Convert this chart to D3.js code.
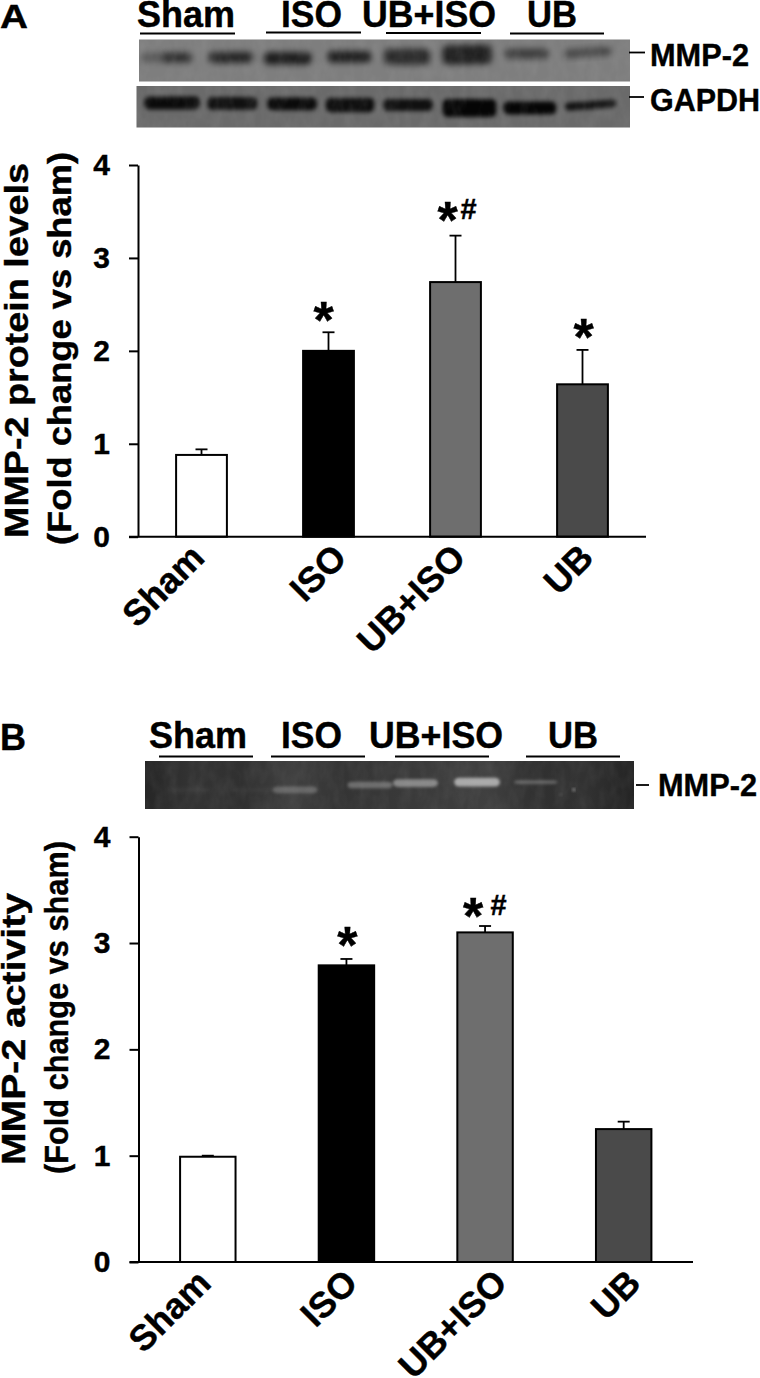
<!DOCTYPE html>
<html>
<head>
<meta charset="utf-8">
<title>MMP-2 protein levels and activity</title>
<script src="https://d3js.org/d3.v7.min.js"></script>
<style>
    html, body { margin: 0; padding: 0; background: #fff; }
    svg { display: block; }
    text { font-family: "Liberation Sans", Arial, sans-serif; font-weight: bold; fill: #000; stroke: #000; stroke-width: 0.4px; }
    .axis path, .axis line { stroke: #000; stroke-width: 2; }
</style>
</head>
<body>
<div id="container"></div>
<script>
"use strict";

const WIDTH = 760;
const HEIGHT = 1378;

// chart values
const CATEGORIES = ["Sham", "ISO", "UB+ISO", "UB"];
const Y_TICKS = [0, 1, 2, 3, 4];
const BAR_COLORS = ["#ffffff", "#000000", "#6e6e6e", "#4a4a4a"];

const PROTEIN_MEANS = [0.88, 2.0, 2.74, 1.64];
const PROTEIN_ERRORS = [0.06, 0.2, 0.5, 0.37];
const PROTEIN_SIG = ["", "*", "*#", "*"];

const ACTIVITY_MEANS = [0.99, 2.79, 3.1, 1.25];
const ACTIVITY_ERRORS = [0.01, 0.06, 0.06, 0.07];
const ACTIVITY_SIG = ["", "*", "*#", ""];

// blot bands: position and width in % of gel width, migration and thickness in % of gel height
const MMP2_POS = [3.3, 7.9, 18.7, 30.3, 42.8, 54.6, 66.8, 79, 91.4];
const MMP2_WIDTH = [5.7, 5.7, 9.0, 9.8, 9.0, 9.4, 10, 9.2, 9.8];
const MMP2_MIGRATION = [43, 43, 43, 45, 41, 41, 36, 34, 31];
const MMP2_THICK = [24, 24, 27, 29, 27, 38, 46, 24, 20];
const MMP2_DENSITY = [0.3, 0.65, 0.7, 0.78, 0.78, 0.66, 0.76, 0.52, 0.45];
const MMP2_TILT = [0, 0, 0, 0, 0, 0, -1, 0, -4];

const GAPDH_POS = [7.2, 19.4, 31.5, 43.3, 55, 67.5, 79.7, 92];
const GAPDH_WIDTH = [11.3, 10.1, 10.1, 9.9, 10.1, 10.9, 10.7, 10.5];
const GAPDH_MIGRATION = [41, 42, 43, 46, 46, 53, 53, 46];
const GAPDH_THICK = [31, 31, 31, 34, 29, 43, 31, 20];
const GAPDH_DENSITY = [0.9, 0.85, 0.9, 0.88, 0.85, 0.95, 0.95, 0.82];
const GAPDH_TILT = [0, 0, 0, 0, 0, 0, 0, -4];

const ZYMO_POS = [9, 22, 30.7, 46, 55.3, 67.9, 79.9, 87.7, 85];
const ZYMO_WIDTH = [9, 9, 9.2, 9.2, 9.2, 9.4, 8.8, 0.6, 0.5];
const ZYMO_MIGRATION = [60, 60, 60, 50, 46, 44, 44, 60, 70];
const ZYMO_THICK = [10, 10, 14, 14, 16, 18, 8, 5, 4];
const ZYMO_DENSITY = [0.03, 0.03, 0.22, 0.28, 0.4, 0.56, 0.25, 0.6, 0.25];

const ZYMO_SHADES = ["#262626", "#343434", "#303030", "#404040", "#343434", "#383838", "#3c3c3c", "#404040", "#303030", "#323232", "#242424"];

// nudge of the slanted labels from the bar centre, per panel
const PROTEIN_LABEL_DX = [5, 20, 12, 13];
const ACTIVITY_LABEL_DX = [5, 13, 24, 19];

const SVG = d3.select("div#container").append("svg")
    .attr("width", WIDTH)
    .attr("height", HEIGHT)
    .attr("viewBox", `0 0 ${WIDTH} ${HEIGHT}`);

const DEFS = SVG.append("defs");

addBlur("softBlur", 3);
addBlur("bandBlur", 2.2);
addBlur("zymoBlur", 1.4);
addGrain("grain");

function addBlur(id, amount) {
    DEFS.append("filter")
        .attr("id", id)
        .attr("x", "-20%").attr("y", "-60%")
        .attr("width", "140%").attr("height", "220%")
        .append("feGaussianBlur")
        .attr("stdDeviation", amount);
}

// mottled film texture laid over the gels, kept inside the gel rectangle
function addGrain(id) {
    const f = DEFS.append("filter")
        .attr("id", id)
        .attr("x", 0).attr("y", 0)
        .attr("width", "100%").attr("height", "100%");
    f.append("feTurbulence")
        .attr("type", "fractalNoise")
        .attr("baseFrequency", "0.09 0.05")
        .attr("numOctaves", 3)
        .attr("seed", 4);
    f.append("feColorMatrix")
        .attr("values", "0 0 0 0 0.5  0 0 0 0 0.5  0 0 0 0 0.5  1.2 0 0 0 -0.4");
}

const zymoGrad = DEFS.append("linearGradient").attr("id", "zymoBg");
ZYMO_SHADES.forEach((c, i) => {
    zymoGrad.append("stop")
        .attr("offset", i / (ZYMO_SHADES.length - 1))
        .attr("stop-color", c);
});

drawPanel({
    letter: "A", letterY: 28, letterSize: 33, letterLen: 28,
    means: PROTEIN_MEANS, errors: PROTEIN_ERRORS, sig: PROTEIN_SIG,
    xRange: [138, 646], yRange: [536.7, 165],
    titles: [
        { text: "MMP-2 protein levels", x: 28, y0: 538, len: 375 },
        { text: "(Fold change vs sham)", x: 71, y0: 545, len: 393 }
    ],
    labelY: 23, labelDx: PROTEIN_LABEL_DX,
    sigOffsets: [null, [-5, -22], [-8, -26], [1, -23]],
    hashDx: 21
});

drawPanel({
    letter: "B", letterY: 750, letterSize: 37, letterLen: 26,
    means: ACTIVITY_MEANS, errors: ACTIVITY_ERRORS, sig: ACTIVITY_SIG,
    xRange: [138.5, 693], yRange: [1262, 836.7],
    titles: [
        { text: "MMP-2 activity", x: 25, y0: 1165, len: 272 },
        { text: "(Fold change vs sham)", x: 68, y0: 1174, len: 333 }
    ],
    labelY: 23, labelDx: ACTIVITY_LABEL_DX,
    sigOffsets: [null, [1, -24], [-12, -20], null],
    hashDx: 25.5
});

// group headers over the gels
drawHeaders([
    { text: "Sham", x: 137, y: 27, len: 98, line: [140, 235], lineY: 33.5 },
    { text: "ISO", x: 281, y: 27, len: 61, line: [266, 361], lineY: 32.5 },
    { text: "UB+ISO", x: 362, y: 27, len: 134, line: [386, 481], lineY: 33 },
    { text: "UB", x: 527, y: 27, len: 50, line: [510, 604], lineY: 33.5 }
]);
drawHeaders([
    { text: "Sham", x: 149, y: 748, len: 98, line: [159, 253], lineY: 756.5 },
    { text: "ISO", x: 281, y: 748, len: 61, line: [271, 365], lineY: 756.5 },
    { text: "UB+ISO", x: 369, y: 748, len: 134, line: [395, 489], lineY: 756.5 },
    { text: "UB", x: 548, y: 748, len: 50, line: [526, 620], lineY: 756.5 }
]);

drawGel({
    x0: 139, x1: 630, y0: 39.5, y1: 81.5, fill: "#7e7e7e", grain: 0.16,
    pos: MMP2_POS, width: MMP2_WIDTH, migration: MMP2_MIGRATION, thick: MMP2_THICK,
    density: MMP2_DENSITY, tilt: MMP2_TILT, band: "#000", filter: "softBlur",
    label: "MMP-2", labelX: 650, labelY: 66, labelLen: 99, tick: [629, 645, 52.5]
});
drawGel({
    x0: 136.5, x1: 630, y0: 86, y1: 127.5, fill: "#6a6a6a", grain: 0.16,
    pos: GAPDH_POS, width: GAPDH_WIDTH, migration: GAPDH_MIGRATION, thick: GAPDH_THICK,
    density: GAPDH_DENSITY, tilt: GAPDH_TILT, band: "#000", filter: "bandBlur",
    label: "GAPDH", labelX: 650, labelY: 111, labelLen: 110, tick: [629, 644, 97]
});
drawGel({
    x0: 145, x1: 634, y0: 761, y1: 809, fill: "url(#zymoBg)", grain: 0.12,
    pos: ZYMO_POS, width: ZYMO_WIDTH, migration: ZYMO_MIGRATION, thick: ZYMO_THICK,
    density: ZYMO_DENSITY, tilt: null, band: "#fff", filter: "zymoBlur",
    label: "MMP-2", labelX: 658, labelY: 796, labelLen: 99, tick: [636, 649, 785]
});

function drawPanel(cfg) {
    const { xScale, yScale } = defineScales(cfg);

    SVG.append("text")
        .attr("x", 0)
        .attr("y", cfg.letterY)
        .attr("textLength", cfg.letterLen)
        .attr("lengthAdjust", "spacingAndGlyphs")
        .style("font-size", cfg.letterSize + "px")
        .text(cfg.letter);

    drawBars(cfg, xScale, yScale);
    drawAxes(cfg, xScale, yScale);
    drawSig(cfg, xScale, yScale);

    cfg.titles.forEach(function (t) {
        SVG.append("text")
            .attr("transform", `translate(${t.x},${t.y0}) rotate(-90)`)
            .attr("textLength", t.len)
            .attr("lengthAdjust", "spacingAndGlyphs")
            .style("font-size", "33px")
            .text(t.text);
    });
}

function defineScales(cfg) {
    const xScale = d3.scaleBand()
        .domain(CATEGORIES)
        .range(cfg.xRange)
        .paddingInner(0.6)
        .paddingOuter(0.3);

    const yScale = d3.scaleLinear()
        .domain([0, 4])
        .range(cfg.yRange);
    return { xScale, yScale };
}

function drawBars(cfg, xScale, yScale) {
    const rows = CATEGORIES.map((c, i) => ({
        cat: c,
        mean: cfg.means[i],
        err: cfg.errors[i],
        color: BAR_COLORS[i]
    }));
    const capHalf = 6;

    const errs = SVG.append("g").selectAll("g").data(rows).join("g")
        .attr("stroke", "#000")
        .attr("stroke-width", 1.8);
    errs.append("line")
        .attr("x1", d => xScale(d.cat) + xScale.bandwidth() / 2)
        .attr("x2", d => xScale(d.cat) + xScale.bandwidth() / 2)
        .attr("y1", d => yScale(d.mean))
        .attr("y2", d => yScale(d.mean + d.err));
    errs.append("line")
        .attr("x1", d => xScale(d.cat) + xScale.bandwidth() / 2 - capHalf)
        .attr("x2", d => xScale(d.cat) + xScale.bandwidth() / 2 + capHalf)
        .attr("y1", d => yScale(d.mean + d.err))
        .attr("y2", d => yScale(d.mean + d.err));

    SVG.append("g").selectAll("rect").data(rows).join("rect")
        .attr("x", d => xScale(d.cat))
        .attr("y", d => yScale(d.mean))
        .attr("width", xScale.bandwidth())
        .attr("height", d => yScale(0) - yScale(d.mean))
        .attr("fill", d => d.color)
        .attr("stroke", "#000")
        .attr("stroke-width", 2);
}

function drawAxes(cfg, xScale, yScale) {
    const yaxis = d3.axisLeft(yScale)
        .tickValues(Y_TICKS)
        .tickFormat(d3.format("d"))
        .tickSize(9)
        .tickSizeOuter(0);

    const yG = SVG.append("g")
        .attr("class", "axis")
        .attr("transform", `translate(${cfg.xRange[0]},0)`)
        .call(yaxis);
    yG.selectAll("text")
        .attr("x", -28)
        .style("font-size", "30px")
        .style("font-family", "\"Liberation Sans\", Arial, sans-serif");

    const xaxis = d3.axisBottom(xScale).tickSize(0).tickSizeOuter(0);
    const xG = SVG.append("g")
        .attr("class", "axis")
        .attr("transform", `translate(0,${cfg.yRange[0]})`)
        .call(xaxis);
    xG.select("path")
        .attr("d", `M${cfg.xRange[0] - 9},0H${cfg.xRange[1]}`);
    xG.selectAll("text")
        .attr("x", 0)
        .attr("y", 0)
        .attr("dy", 0)
        .attr("text-anchor", "end")
        .attr("transform", (d, i) => `translate(${cfg.labelDx[i]},${cfg.labelY}) rotate(-45)`)
        .style("font-size", "36px")
        .style("font-family", "\"Liberation Sans\", Arial, sans-serif");
}

function drawSig(cfg, xScale, yScale) {
    CATEGORIES.forEach(function (c, i) {
        if (!cfg.sig[i]) {
            return;
        }
        const cx = xScale(c) + xScale.bandwidth() / 2 + cfg.sigOffsets[i][0];
        const cy = yScale(cfg.means[i] + cfg.errors[i]) + cfg.sigOffsets[i][1];

        // the asterisk glyph sits high in its em box, so the baseline is pushed down
        SVG.append("text")
            .attr("x", cx)
            .attr("y", cy + 28)
            .attr("text-anchor", "middle")
            .style("font-size", "52px")
            .text("*");

        if (cfg.sig[i].includes("#")) {
            SVG.append("text")
                .attr("x", cx + cfg.hashDx)
                .attr("y", cy + 9)
                .attr("text-anchor", "middle")
                .style("font-size", "29px")
                .text("#");
        }
    });
}

function drawHeaders(items) {
    items.forEach(function (d) {
        SVG.append("text")
            .attr("x", d.x)
            .attr("y", d.y)
            .attr("textLength", d.len)
            .attr("lengthAdjust", "spacingAndGlyphs")
            .style("font-size", "36px")
            .text(d.text);
        SVG.append("line")
            .attr("x1", d.line[0])
            .attr("x2", d.line[1])
            .attr("y1", d.lineY)
            .attr("y2", d.lineY)
            .attr("stroke", "#000")
            .attr("stroke-width", 2);
    });
}

function drawGel(g) {
    const xGel = d3.scaleLinear().domain([0, 100]).range([g.x0, g.x1]);
    const yGel = d3.scaleLinear().domain([0, 100]).range([g.y0, g.y1]);
    const xLen = d3.scaleLinear().domain([0, 100]).range([0, g.x1 - g.x0]);
    const yLen = d3.scaleLinear().domain([0, 100]).range([0, g.y1 - g.y0]);

    SVG.append("rect")
        .attr("x", g.x0)
        .attr("y", g.y0)
        .attr("width", g.x1 - g.x0)
        .attr("height", g.y1 - g.y0)
        .attr("fill", g.fill);

    const clipId = "clip" + Math.round(g.y0);
    DEFS.append("clipPath").attr("id", clipId)
        .append("rect")
        .attr("x", g.x0)
        .attr("y", g.y0)
        .attr("width", g.x1 - g.x0)
        .attr("height", g.y1 - g.y0);

    SVG.append("g")
        .attr("clip-path", `url(#${clipId})`)
        .selectAll("rect")
        .data(g.pos)
        .join("rect")
        .attr("x", (d, i) => xGel(d) - xLen(g.width[i]) / 2)
        .attr("y", (d, i) => yGel(g.migration[i]) - yLen(g.thick[i]) / 2)
        .attr("width", (d, i) => xLen(g.width[i]))
        .attr("height", (d, i) => yLen(g.thick[i]))
        .attr("rx", 5)
        .attr("fill", g.band)
        .attr("fill-opacity", (d, i) => g.density[i])
        .attr("filter", `url(#${g.filter})`)
        .attr("transform", (d, i) => g.tilt ? `rotate(${g.tilt[i]},${xGel(d)},${yGel(g.migration[i])})` : null);

    SVG.append("rect")
        .attr("x", g.x0)
        .attr("y", g.y0)
        .attr("width", g.x1 - g.x0)
        .attr("height", g.y1 - g.y0)
        .attr("filter", "url(#grain)")
        .attr("opacity", g.grain);

    SVG.append("line")
        .attr("x1", g.tick[0])
        .attr("x2", g.tick[1])
        .attr("y1", g.tick[2])
        .attr("y2", g.tick[2])
        .attr("stroke", "#000")
        .attr("stroke-width", 1.8);

    SVG.append("text")
        .attr("x", g.labelX)
        .attr("y", g.labelY)
        .attr("textLength", g.labelLen)
        .attr("lengthAdjust", "spacingAndGlyphs")
        .style("font-size", "32px")
        .text(g.label);
}
</script>
</body>
</html>
